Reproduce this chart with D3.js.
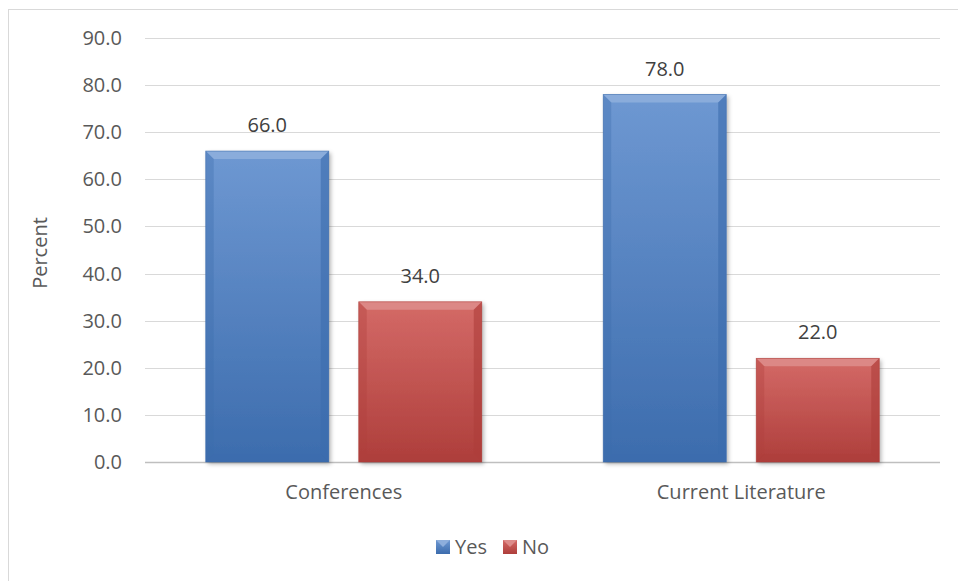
<!DOCTYPE html>
<html><head><meta charset="utf-8">
<script src="https://cdn.jsdelivr.net/npm/d3@7"></script>
<style>body{margin:0;background:#fff}svg{display:block}text{font-family:"Open Sans","Noto Sans",sans-serif}</style>
</head><body><svg id="c" width="958" height="581"></svg>
<script>
const categories = ["Conferences", "Current Literature"];
const seriesNames = ["Yes", "No"];
const yesValues = [66.0, 78.0];
const noValues = [34.0, 22.0];
const yTicks = [0, 10, 20, 30, 40, 50, 60, 70, 80, 90];

const colors = {Yes:{base:"#4F81BD", light:"#6E98D2", dark:"#3C6CAD", top:"#8DAEDC"},
                No:{base:"#C0504D", light:"#D46A67", dark:"#AE3E3B", top:"#DD8C8A"}};
const svg = d3.select("#c");
const W = 958, H = 581;
const m = {l:145, r:940, t:38, b:462};

svg.append("rect").attr("x",8.5).attr("y",9.5).attr("width",W).attr("height",H)
  .attr("fill","#fff").attr("stroke","#d9d9d9").attr("stroke-width",1);

const x0 = d3.scaleBand().domain(categories).range([m.l, m.r]).paddingInner(0).paddingOuter(0);
const x1 = d3.scaleBand().domain(seriesNames).range([0, x0.bandwidth()]).paddingInner(0.196).paddingOuter(0.397);
const y = d3.scaleLinear().domain([0, 90]).range([m.b, m.t]);

const defs = svg.append("defs");
seriesNames.forEach(s=>{
  const g = defs.append("linearGradient").attr("id","g"+s).attr("x1",0).attr("y1",0).attr("x2",0).attr("y2",1);
  g.append("stop").attr("offset","0%").attr("stop-color",colors[s].light);
  g.append("stop").attr("offset","100%").attr("stop-color",colors[s].dark);
});
const f = defs.append("filter").attr("id","sh").attr("x","-20%").attr("y","-20%").attr("width","140%").attr("height","140%");
f.append("feDropShadow").attr("dx",2).attr("dy",2).attr("stdDeviation",2).attr("flood-color","#000").attr("flood-opacity",0.3);

// gridlines
svg.append("g").selectAll("line").data(yTicks).join("line")
  .attr("x1",m.l).attr("x2",m.r).attr("y1",d=>Math.round(y(d))+0.5).attr("y2",d=>Math.round(y(d))+0.5)
  .attr("stroke",d=>d===0?"#bfbfbf":"#d9d9d9").attr("stroke-width",d=>d===0?1.5:1);

// y labels
svg.append("g").selectAll("text").data(yTicks).join("text")
  .attr("x",122).attr("y",d=>y(d)).attr("dy","0.35em").attr("text-anchor","end")
  .attr("font-size",20).attr("fill","#595959").text(d=>d.toFixed(1));

svg.append("text").attr("transform","translate(40,"+((m.t+m.b)/2+3)+") rotate(-90)")
  .attr("text-anchor","middle").attr("dy","0.35em").attr("font-size",20).attr("fill","#595959").text("Percent");

const data = [];
categories.forEach((c,i)=>{
  data.push({cat:c, s:"Yes", v:yesValues[i]});
  data.push({cat:c, s:"No", v:noValues[i]});
});

const bv = 8;
const bars = svg.append("g").selectAll("g").data(data).join("g")
  .attr("transform",d=>`translate(${x0(d.cat)+x1(d.s)},${y(d.v)})`);
bars.each(function(d){
  const g = d3.select(this);
  const w = x1.bandwidth(), h = y(0)-y(d.v), c = colors[d.s];
  g.append("rect").attr("width",w).attr("height",h).attr("fill",`url(#g${d.s})`).attr("filter","url(#sh)");
  g.append("polygon").attr("points",`0,0 ${w},0 ${w-bv},${bv} ${bv},${bv}`).attr("fill",c.top).attr("opacity",0.9);
  g.append("polygon").attr("points",`0,0 ${bv},${bv} ${bv},${h-bv} 0,${h}`).attr("fill",c.dark).attr("opacity",0.35);
  g.append("polygon").attr("points",`${w},0 ${w-bv},${bv} ${w-bv},${h-bv} ${w},${h}`).attr("fill",c.dark).attr("opacity",0.6);
  g.append("polygon").attr("points",`0,${h} ${bv},${h-bv} ${w-bv},${h-bv} ${w},${h}`).attr("fill",c.dark).attr("opacity",0.5);
  g.append("rect").attr("width",w).attr("height",h).attr("fill","none").attr("stroke",c.dark).attr("stroke-width",0.8).attr("opacity",0.7);
});

svg.append("g").selectAll("text").data(data).join("text")
  .attr("x",d=>x0(d.cat)+x1(d.s)+x1.bandwidth()/2).attr("y",d=>y(d.v)-26)
  .attr("text-anchor","middle").attr("dy","0.35em").attr("font-size",20).attr("fill","#404040")
  .text(d=>d.v.toFixed(1));

svg.append("g").selectAll("text").data(categories).join("text")
  .attr("x",d=>x0(d)+x0.bandwidth()/2).attr("y",492).attr("dy","0.35em").attr("text-anchor","middle")
  .attr("font-size",20).attr("fill","#595959").text(d=>d);

// legend
const leg = svg.append("g");
const legX = [436, 503];
seriesNames.forEach((s,i)=>{
  const c = colors[s];
  const gx = legX[i], gy = 540;
  leg.append("rect").attr("x",gx).attr("y",gy).attr("width",14).attr("height",14).attr("fill",`url(#g${s})`);
  leg.append("polygon").attr("points",`${gx},${gy} ${gx+14},${gy} ${gx+7},${gy+7}`).attr("fill",c.top);
  leg.append("text").attr("x",gx+19).attr("y",gy+7).attr("dy","0.35em").attr("font-size",20).attr("fill","#595959").text(s);
});
</script></body></html>
